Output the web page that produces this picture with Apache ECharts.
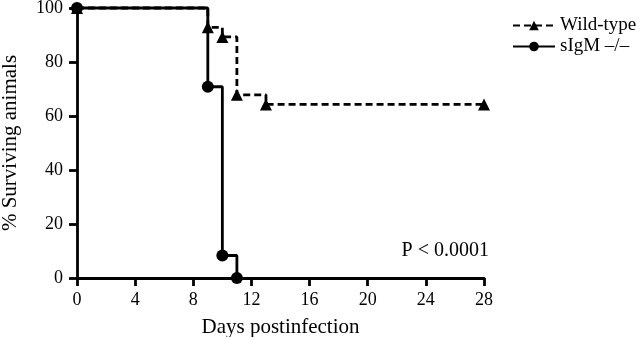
<!DOCTYPE html>
<html>
<head>
<meta charset="utf-8">
<script src="https://cdn.jsdelivr.net/npm/echarts@6/dist/echarts.min.js"></script>
<style>
  html, body { margin: 0; padding: 0; background: #fff; }
  #chart { width: 640px; height: 337px; }
</style>
</head>
<body>
<div id="chart"></div>
<script>
// Kaplan-Meier survival
const xTicks = [0, 4, 8, 12, 16, 20, 24, 28];
const yTicks = [0, 20, 40, 60, 80, 100];

const wtDays = [0, 9, 10, 11, 13, 28];
const wtSurvival = [100, 92.86, 89.29, 67.86, 64.29, 64.29];

const koDays = [0, 9, 10, 11];
const koSurvival = [100, 70.83, 8.33, 0];

const seriesNames = ['Wild-type', 'sIgM –/–'];
const pValueText = 'P < 0.0001';

const FONT = 'Liberation Serif';

const chart = echarts.init(document.getElementById('chart'));

const option = {
  animation: false,
  backgroundColor: '#fff',
  textStyle: { fontFamily: FONT, color: '#000' },
  grid: { left: 77, right: 156, top: 8, bottom: 59, outerBoundsMode: 'none', containLabel: false },
  legend: {
    data: seriesNames,
    orient: 'vertical',
    left: 507,
    top: 11,
    itemWidth: 42,
    itemHeight: 12,
    itemGap: 2,
    textStyle: { fontFamily: FONT, fontSize: 19, color: '#000' },
  },
  xAxis: {
    type: 'value',
    min: xTicks[0],
    max: xTicks[xTicks.length - 1],
    interval: 4,
    name: 'Days postinfection',
    nameLocation: 'middle',
    nameGap: 39,
    nameTextStyle: { fontFamily: FONT, fontSize: 21, color: '#000' },
    axisLine: { show: true, lineStyle: { color: '#000', width: 2.8 } },
    axisTick: { show: true, length: 8, lineStyle: { color: '#000', width: 2.8 } },
    axisLabel: { fontFamily: FONT, fontSize: 18, color: '#000', margin: 13 },
    splitLine: { show: false },
  },
  yAxis: {
    type: 'value',
    min: yTicks[0],
    max: yTicks[yTicks.length - 1],
    interval: 20,
    name: '% Surviving animals',
    nameLocation: 'middle',
    nameGap: 56,
    nameTextStyle: { fontFamily: FONT, fontSize: 21, color: '#000' },
    axisLine: { show: true, lineStyle: { color: '#000', width: 2.8 } },
    axisTick: { show: true, length: 8, lineStyle: { color: '#000', width: 2.8 } },
    axisLabel: { fontFamily: FONT, fontSize: 18, color: '#000', margin: 14 },
    splitLine: { show: false },
  },
  graphic: [
    {
      type: 'text',
      right: 151,
      top: 241,
      style: { text: pValueText, font: '20px "Liberation Serif"', fill: '#000' },
    },
  ],
  series: [
    {
      name: seriesNames[0],
      type: 'line',
      step: 'end',
      clip: false,
      data: wtDays.map((d, i) => [d, wtSurvival[i]]),
      symbol: 'triangle',
      symbolSize: 12,
      itemStyle: { color: '#000' },
      lineStyle: { color: '#000', width: 2.8, type: [7, 4] },
      z: 2,
    },
    {
      name: seriesNames[1],
      type: 'line',
      step: 'end',
      clip: false,
      data: koDays.map((d, i) => [d, koSurvival[i]]),
      symbol: 'circle',
      symbolSize: 12,
      itemStyle: { color: '#000' },
      lineStyle: { color: '#000', width: 2.8 },
      z: 3,
    },
  ],
};

chart.setOption(option);
</script>
</body>
</html>
